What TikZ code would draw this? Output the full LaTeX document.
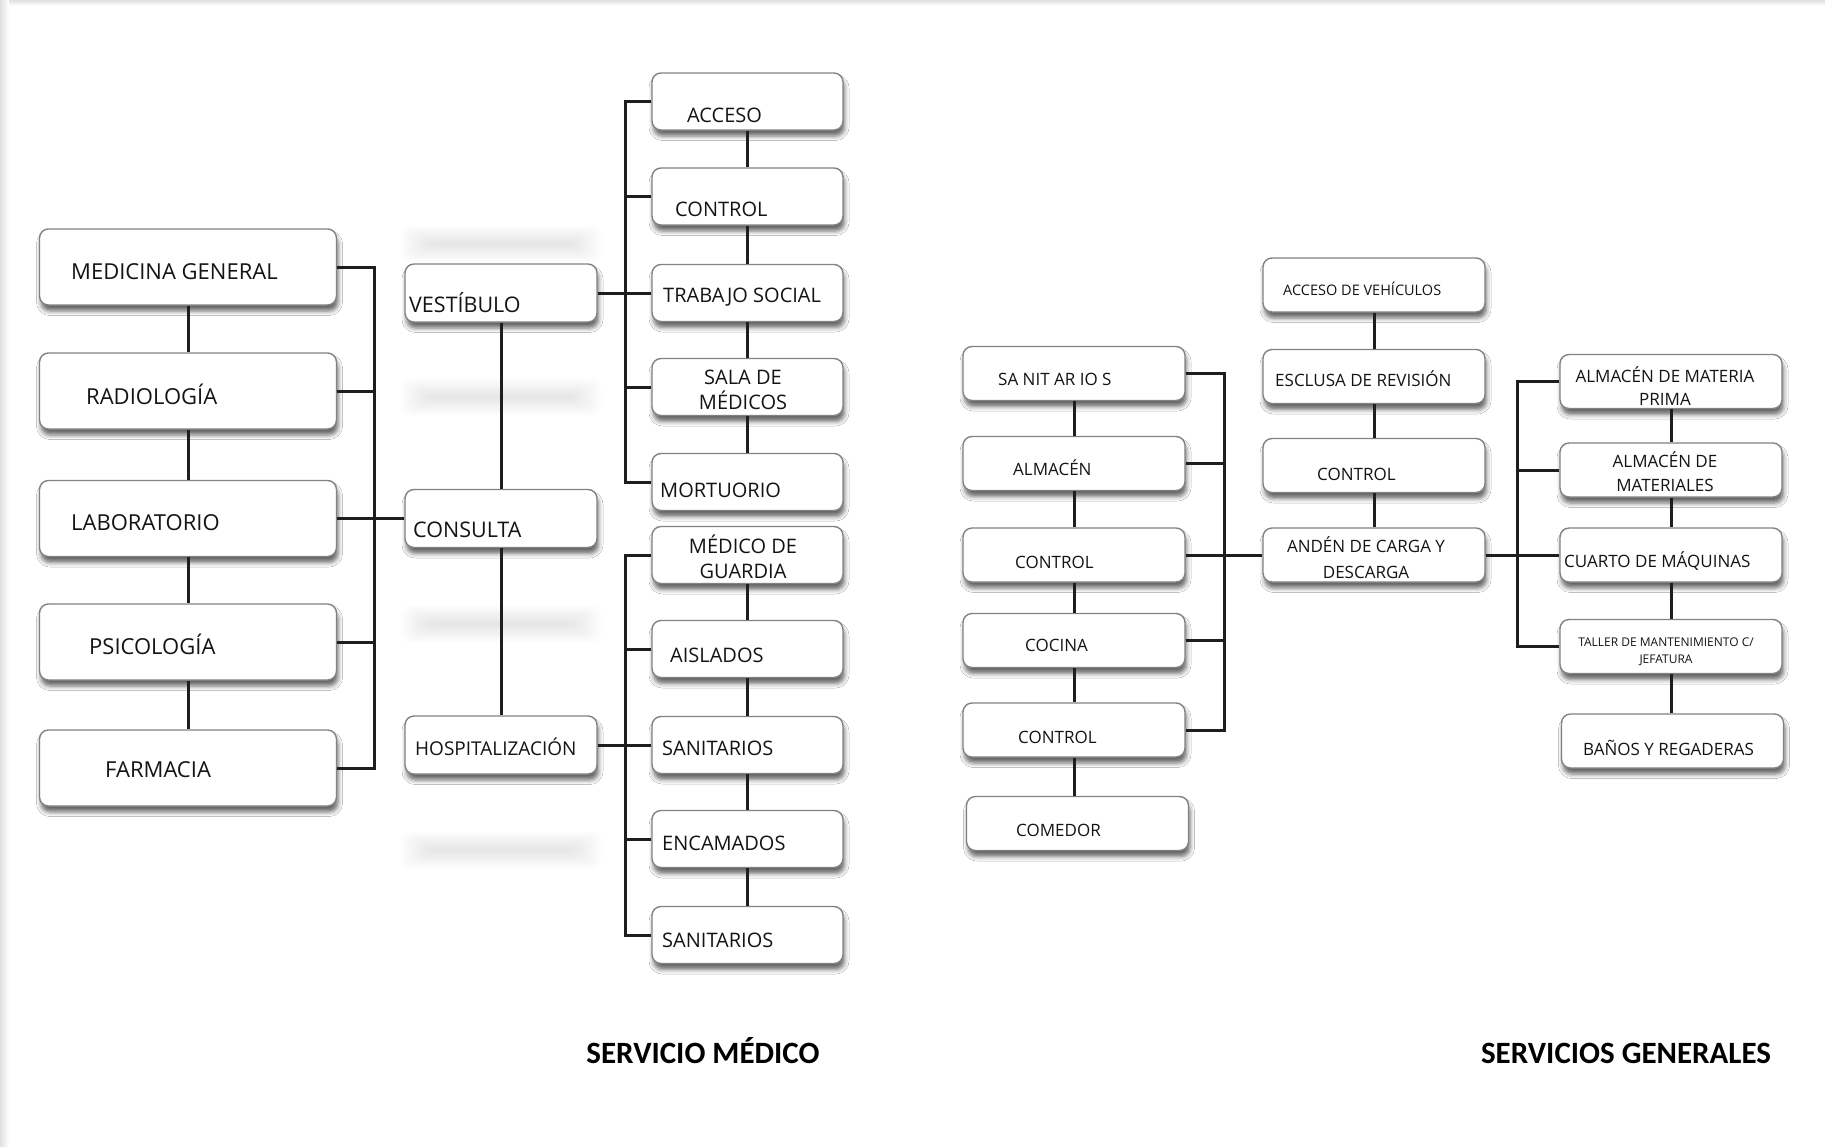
\documentclass[tikz,border=0pt]{standalone}
\usepackage{fontspec}
\setmainfont{Open Sans}
\newfontfamily\titlefont{Carlito}
\usetikzlibrary{shadows.blur}
\definecolor{boxgray}{RGB}{130,130,130}
\definecolor{linecol}{RGB}{30,30,30}
\definecolor{txtcol}{RGB}{20,20,20}
\begin{document}
\begin{tikzpicture}[x=1pt,y=-1pt,
 box/.style={draw=boxgray, line width=1.4pt, fill=white, rounded corners=9pt, inner sep=0pt,
   blur shadow={shadow xshift=1.5pt, shadow yshift=-6pt, shadow blur radius=4.5pt, shadow opacity=60}},
 bL/.style={box, minimum width=297pt, minimum height=76pt},
 bM/.style={box, minimum width=192pt, minimum height=58pt},
 bR/.style={box, minimum width=191pt, minimum height=57pt},
 bS/.style={box, minimum width=222pt, minimum height=54pt},
 conn/.style={draw=linecol, line width=3pt},
 lbl/.style={inner sep=0pt, text=txtcol, anchor=base west},
 ml/.style={inner sep=0pt, text=txtcol, align=center, anchor=center},
 fA/.style={font=\fontsize{22}{26}\selectfont},
 fB/.style={font=\fontsize{21.5}{26}\selectfont},
 fC/.style={font=\fontsize{20}{25}\selectfont},
 fD/.style={font=\fontsize{17}{24}\selectfont},
 fE/.style={font=\fontsize{14.5}{20}\selectfont},
 fF/.style={font=\fontsize{12}{17}\selectfont},
 title/.style={inner sep=0pt, text=black, anchor=base, font=\titlefont\bfseries\fontsize{31}{36}\selectfont}
]
\useasboundingbox (0,0) rectangle (1825,1146);
\fill[white] (0,0) rectangle (1825,1146);
\shade[top color=black!12, bottom color=white] (0,0) rectangle (1825,6);
\shade[left color=black!12, right color=white] (0,0) rectangle (9,1146);

% ghost blurred bars
\foreach \gy in {244,397,624,850}{
  \foreach \i in {0,...,11}{
    \fill[black, opacity=0.009, rounded corners=8pt] (428-\i*2.5,\gy-2-\i*1.5) rectangle (574+\i*2.5,\gy+2+\i*1.5);
  }
}

% ===== SERVICIO MEDICO =====
\node[bL] (mg) at (188,267) {};
\node[bL] (ra) at (188,391) {};
\node[bL] (la) at (188,518.5) {};
\node[bL] (ps) at (188,642) {};
\node[bL] (fa) at (188,768) {};

\node[bM] (ve) at (501,293) {};
\node[bM] (co) at (501,518.5) {};
\node[bM] (ho) at (501,745) {};

\node[bR] (r1) at (747.5,101.5) {};
\node[bR] (r2) at (747.5,196.5) {};
\node[bR] (r3) at (747.5,293) {};
\node[bR] (r4) at (747.5,387) {};
\node[bR] (r5) at (747.5,482) {};
\node[bR] (r6) at (747.5,555) {};
\node[bR] (r7) at (747.5,649) {};
\node[bR] (r8) at (747.5,745) {};
\node[bR] (r9) at (747.5,839) {};
\node[bR] (r10) at (747.5,935) {};

\coordinate (busL) at (374,0);
\coordinate (busA) at (625,0);

\draw[conn] (mg.south) -- (ra.north);
\draw[conn] (ra.south) -- (la.north);
\draw[conn] (la.south) -- (ps.north);
\draw[conn] (ps.south) -- (fa.north);
\draw[conn] (mg.east) -- (mg.east -| busL) |- (fa.east);
\draw[conn] (ra.east) -- (ra.east -| busL);
\draw[conn] (ps.east) -- (ps.east -| busL);
\draw[conn] (la.east) -- (co.west);

\draw[conn] (ve.south) -- (co.north);
\draw[conn] (co.south) -- (ho.north);
\draw[conn] (ve.east) -- (r3.west);
\draw[conn] (ho.east) -- (r8.west);

\draw[conn] (r1.west) -- (r1.west -| busA) |- (r5.west);
\draw[conn] (r2.west) -- (r2.west -| busA);
\draw[conn] (r4.west) -- (r4.west -| busA);
\draw[conn] (r6.west) -- (r6.west -| busA) |- (r10.west);
\draw[conn] (r7.west) -- (r7.west -| busA);
\draw[conn] (r9.west) -- (r9.west -| busA);
\draw[conn] (r1.south) -- (r2.north);
\draw[conn] (r2.south) -- (r3.north);
\draw[conn] (r3.south) -- (r4.north);
\draw[conn] (r4.south) -- (r5.north);
\draw[conn] (r6.south) -- (r7.north);
\draw[conn] (r7.south) -- (r8.north);
\draw[conn] (r8.south) -- (r9.north);
\draw[conn] (r9.south) -- (r10.north);

\node[lbl,fA] (tmg) at (71,279) {MEDICINA GENERAL};
\node[lbl,fA] (tra) at (86,404) {RADIOLOGÍA};
\node[lbl,fA] (tla) at (71,530) {LABORATORIO};
\node[lbl,fA] (tps) at (89,654) {PSICOLOGÍA};
\node[lbl,fA] (tfa) at (105,777) {FARMACIA};

\node[lbl,fB] (tve) at (409,312) {VESTÍBULO};
\node[lbl,fB] (tco) at (413,537) {CONSULTA};
\node[lbl,font=\fontsize{19}{24}\selectfont] (tho) at (415,755) {HOSPITALIZACIÓN};

\node[lbl,fC] (tr1) at (687,122) {ACCESO};
\node[lbl,fC] (tr2) at (675,216) {CONTROL};
\node[lbl,fC] (tr3) at (663,302) {TRABAJO SOCIAL};
\node[ml,fC] (tr4) at (743,390) {SALA DE\\MÉDICOS};
\node[lbl,fC] (tr5) at (660,497) {MORTUORIO};
\node[ml,fC] (tr6) at (743,557) {MÉDICO DE\\GUARDIA};
\node[lbl,fC] (tr7) at (670,662) {AISLADOS};
\node[lbl,fC] (tr8) at (662,755) {SANITARIOS};
\node[lbl,fC] (tr9) at (662,850) {ENCAMADOS};
\node[lbl,fC] (tr10) at (662,947) {SANITARIOS};

\node[title] (tsm) at (703,1063) {SERVICIO MÉDICO};

% ===== SERVICIOS GENERALES =====
\node[bS] (s1) at (1074,373.5) {};
\node[bS] (s2) at (1074,463.5) {};
\node[bS] (s3) at (1074,555) {};
\node[bS] (s4) at (1074,640.5) {};
\node[bS] (s5) at (1074,730) {};
\node[bS] (s6) at (1077.5,823.5) {};

\node[bS] (m1) at (1374,285) {};
\node[bS] (m2) at (1374,376.5) {};
\node[bS] (m3) at (1374,465.5) {};
\node[bS] (m4) at (1374,555) {};

\node[bS] (q1) at (1671,381.5) {};
\node[bS] (q2) at (1671,470) {};
\node[bS] (q3) at (1671,555) {};
\node[bS] (q4) at (1671,646.5) {};
\node[bS] (q5) at (1672.5,741) {};

\coordinate (busS) at (1224,0);
\coordinate (busQ) at (1517,0);

\draw[conn] (s1.south) -- (s2.north);
\draw[conn] (s2.south) -- (s3.north);
\draw[conn] (s3.south) -- (s4.north);
\draw[conn] (s4.south) -- (s5.north);
\draw[conn] (s5.south) -- (s5.south |- s6.north);
\draw[conn] (s1.east) -- (s1.east -| busS) |- (s5.east);
\draw[conn] (s2.east) -- (s2.east -| busS);
\draw[conn] (s4.east) -- (s4.east -| busS);
\draw[conn] (s3.east) -- (m4.west);

\draw[conn] (m1.south) -- (m2.north);
\draw[conn] (m2.south) -- (m3.north);
\draw[conn] (m3.south) -- (m4.north);
\draw[conn] (m4.east) -- (q3.west);

\draw[conn] (q1.west) -- (q1.west -| busQ) |- (q4.west);
\draw[conn] (q2.west) -- (q2.west -| busQ);
\draw[conn] (q1.south) -- (q2.north);
\draw[conn] (q2.south) -- (q3.north);
\draw[conn] (q3.south) -- (q4.north);
\draw[conn] (q4.south) -- (q4.south |- q5.north);

\node[lbl,fD] (ts1) at (998,385) {SA NIT AR IO S};
\node[lbl,fD] (ts2) at (1013,475) {ALMACÉN};
\node[lbl,fD] (ts3) at (1015,568) {CONTROL};
\node[lbl,fD] (ts4) at (1025,651) {COCINA};
\node[lbl,fD] (ts5) at (1018,743) {CONTROL};
\node[lbl,fD] (ts6) at (1016,836) {COMEDOR};

\node[lbl,fE] (tm1) at (1283,295) {ACCESO DE VEHÍCULOS};
\node[lbl,fD] (tm2) at (1275,386) {ESCLUSA DE REVISIÓN};
\node[lbl,fD] (tm3) at (1317,480) {CONTROL};
\node[ml,font=\fontsize{17}{26}\selectfont] (tm4) at (1366,558) {ANDÉN DE CARGA Y\\DESCARGA};

\node[ml,font=\fontsize{17}{23}\selectfont] (tq1) at (1665,386.5) {ALMACÉN DE MATERIA\\PRIMA};
\node[ml,font=\fontsize{17}{24}\selectfont] (tq2) at (1665,472) {ALMACÉN DE\\MATERIALES};
\node[lbl,fD] (tq3) at (1564,567) {CUARTO DE MÁQUINAS};
\node[ml,fF] (tq4) at (1666,652) {TALLER DE MANTENIMIENTO C/\\JEFATURA};
\node[lbl,fD] (tq5) at (1583,755) {BAÑOS Y REGADERAS};

\node[title] (tsg) at (1626,1063) {SERVICIOS GENERALES};
\end{tikzpicture}
\end{document}
